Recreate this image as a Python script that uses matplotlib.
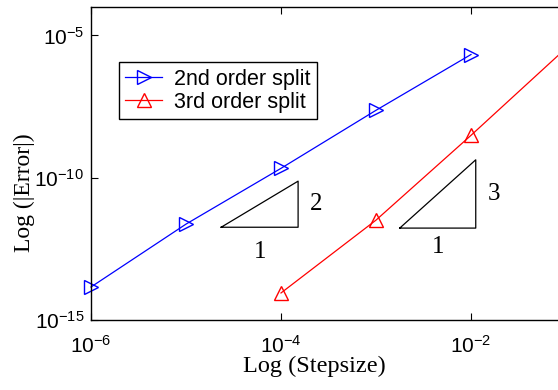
import numpy as np
import matplotlib
matplotlib.use("Agg")
import matplotlib.pyplot as plt

# data
step_2nd = [1e-6, 1e-5, 1e-4, 1e-3, 1e-2]
err_2nd_log = [-13.84, -11.63, -9.67, -7.63, -5.67]
step_3rd = [1e-4, 1e-3, 1e-2, 1e-1]
err_3rd_log = [-14.05, -11.49, -8.51, -5.45]
labels = ["2nd order split", "3rd order split"]

# slope triangles: (log10 x start, width in decades, log10 y base, slope)
triangles = [(-4.63, 0.81, -11.74, 2), (-2.75, 0.80, -11.77, 3)]
run_label_drop = [0.88, 0.67]  # decades below the base for the "1" label

err_2nd = [10 ** v for v in err_2nd_log]
err_3rd = [10 ** v for v in err_3rd_log]

fig = plt.figure(figsize=(5.58, 3.9), dpi=100)
ax = fig.add_axes([91 / 558, 70 / 390, 475 / 558, 313 / 390])
ax.set_xscale("log")
ax.set_yscale("log")
ax.plot(step_2nd, err_2nd, color="blue", marker=">", markerfacecolor="none",
        markeredgecolor="blue", markersize=10, lw=0.9, label=labels[0], clip_on=False)
ax.plot(step_3rd, err_3rd, color="red", marker="^", markerfacecolor="none",
        markeredgecolor="red", markersize=10, lw=0.9, label=labels[1])

serif = "Liberation Serif"
for (lx, w, ly, s), drop in zip(triangles, run_label_drop):
    x0, x1 = 10 ** lx, 10 ** (lx + w)
    y0, y1 = 10 ** ly, 10 ** (ly + s * w)
    ax.plot([x0, x1, x1, x0], [y0, y0, y1, y0], color="black", lw=0.9)
    ax.text(10 ** (lx + w / 2), 10 ** (ly - drop), "1", family=serif, fontsize=18,
            ha="center", va="center")
    ax.text(10 ** (lx + w + 0.19), 10 ** (ly + s * w / 2), str(s), family=serif,
            fontsize=18, ha="center", va="center")

ax.set_xlim(1e-6, 1e-1)
ax.set_ylim(1e-15, 1e-4)
ax.set_xticks([1e-6, 1e-4, 1e-2])
ax.set_yticks([1e-15, 1e-10, 1e-5])
ax.minorticks_off()
ax.tick_params(direction="in", top=True, right=True, length=5, width=0.8,
               labelsize=15)
ax.tick_params(axis="x", pad=11)
ax.tick_params(axis="y", pad=5)
for lab in ax.get_xticklabels() + ax.get_yticklabels():
    lab.set_family("Liberation Sans")
for sp in ax.spines.values():
    sp.set_linewidth(1.0)

ax.set_xlabel("Log (Stepsize)", family=serif, fontsize=17.5)
ax.set_ylabel("Log (|Error|)", family=serif, fontsize=17)
ax.xaxis.set_label_coords(0.47, -0.115)
ax.yaxis.set_label_coords(-0.118, 0.406)

leg = ax.legend(loc="upper left", bbox_to_anchor=(0.059, 0.824), fancybox=False,
                edgecolor="black", framealpha=1,
                prop={"family": "Liberation Sans", "size": 15.5},
                borderpad=0.3, handlelength=1.7, handletextpad=0.55,
                labelspacing=0.1, borderaxespad=0)
leg.get_frame().set_linewidth(1.0)

fig.savefig("out.png", dpi=100)
